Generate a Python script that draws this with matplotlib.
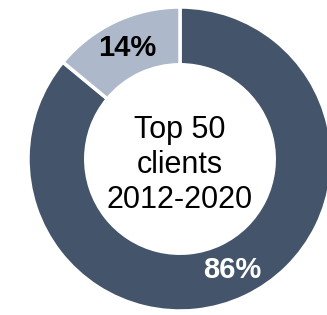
import matplotlib

matplotlib.use('Agg')
import matplotlib.pyplot as plt

# share of revenue, top 50 clients
labels = ['Top 50 clients', 'Other']
shares = [86, 14]
colors = ['#44546A', '#ADB9CA']
label_colors = ['white', 'black']
center_text = 'Top 50\nclients\n2012-2020'

plt.rcParams['font.family'] = ['Liberation Sans', 'DejaVu Sans']

fig = plt.figure(figsize=(3.27, 3.15), dpi=100)
ax = fig.add_axes([0, 0, 1, 1])

wedges, texts, autotexts = ax.pie(
    shares, colors=colors, startangle=90, counterclock=False,
    autopct='%d%%', pctdistance=0.81,
    wedgeprops=dict(width=0.38, edgecolor='white', linewidth=2.5))

for t, c in zip(autotexts, label_colors):
    t.set_color(c)
    t.set_fontsize(21)
    t.set_fontweight('bold')

ax.text(0, -0.04, center_text, ha='center', va='center', fontsize=22,
        linespacing=1.2, color='black')

# center of ring sits at (180, 159) px, radius 152 px
r = 152.0
ax.set_xlim(-180 / r, 147 / r)
ax.set_ylim(-156 / r, 159 / r)
ax.set_aspect('equal')
ax.axis('off')

plt.savefig('out.png', dpi=100)
